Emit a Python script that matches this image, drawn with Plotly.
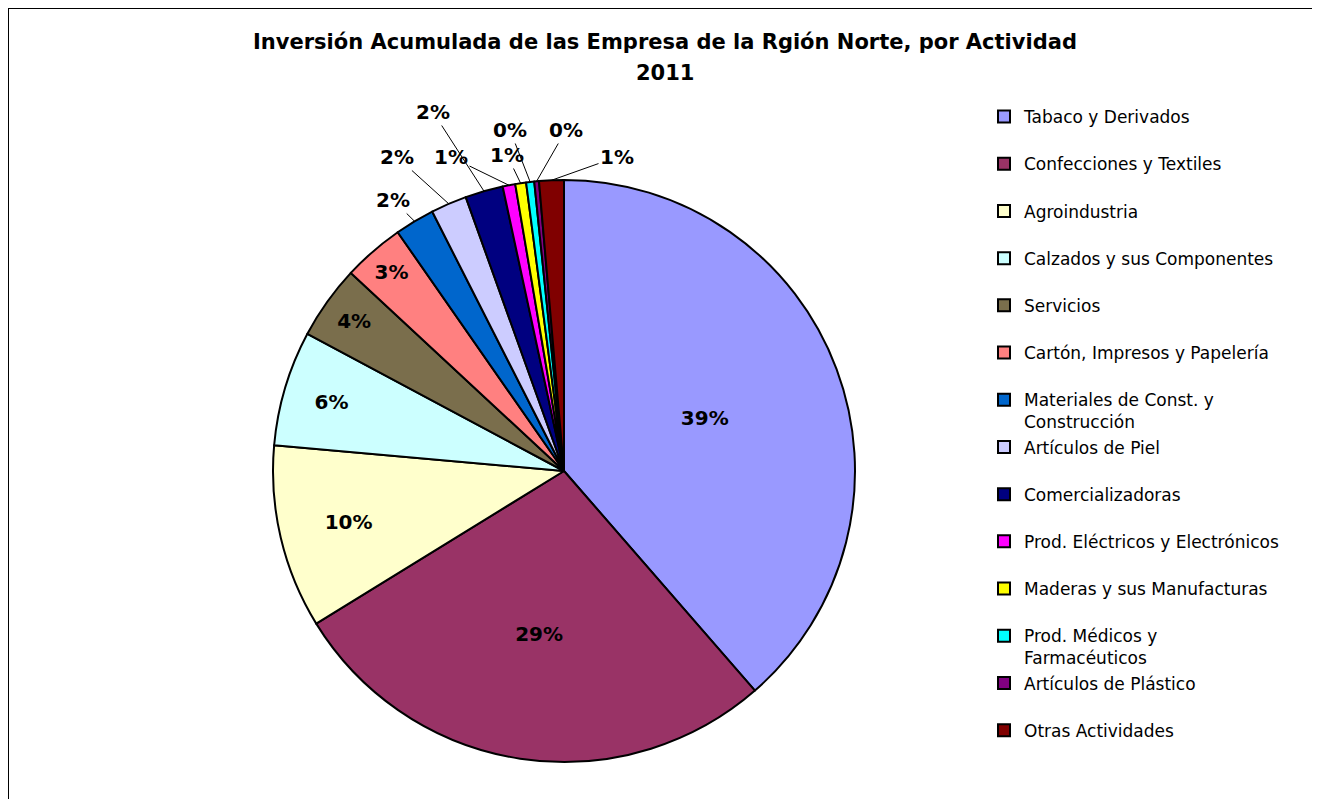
import math
import plotly.graph_objects as go

# Activities, in the order they are drawn clockwise from 12 o'clock
actividades = [
    "Tabaco y Derivados",
    "Confecciones y Textiles",
    "Agroindustria",
    "Calzados y sus Componentes",
    "Servicios",
    "Cartón, Impresos y Papelería",
    "Materiales de Const. y<br>Construcción",
    "Artículos de Piel",
    "Comercializadoras",
    "Prod. Eléctricos y Electrónicos",
    "Maderas y sus Manufacturas",
    "Prod. Médicos y<br>Farmacéuticos",
    "Artículos de Plástico",
    "Otras Actividades",
]
# share of accumulated investment (%)
inversion = [38.6, 27.6, 10.2, 6.4, 4.1, 3.4, 2.2, 2.0, 2.1, 0.7, 0.6, 0.45, 0.26, 1.37]
# data labels as printed on the chart
etiquetas = ["39%", "29%", "10%", "6%", "4%", "3%", "2%", "2%", "2%", "1%", "1%", "0%", "0%", "1%"]

colores = [
    "#9999FF", "#993366", "#FFFFCC", "#CCFFFF", "#7A6E4C", "#FF8080", "#0066CC",
    "#CCCCFF", "#000080", "#FF00FF", "#FFFF00", "#00FFFF", "#800080", "#800000",
]
N_DENTRO = 6   # the first six slices carry their label inside

# every legend row gets two lines so the row pitch matches the original
def leyenda(nombre):
    return nombre if "<br>" in nombre else nombre + "<br>&nbsp;"

W, H = 1312, 791   # page adds an 8px body margin
FUENTE = "DejaVu Sans, Arial"

def px_x(x):
    return (x - 8) / W

def px_y(y):
    return 1 - (y - 8) / H

cx, cy, r = 564, 471, 291

fig = go.Figure(go.Pie(
    labels=[leyenda(n) for n in actividades],
    values=inversion,
    text=etiquetas,
    textinfo="text",
    textposition=["inside"] * N_DENTRO + ["none"] * (len(inversion) - N_DENTRO),
    insidetextorientation="horizontal",
    textfont=dict(family=FUENTE, size=20, color="black", weight="bold"),
    marker=dict(colors=colores, line=dict(color="black", width=2)),
    sort=False,
    direction="clockwise",
    rotation=0,
    domain=dict(x=[px_x(cx - r), px_x(cx + r)], y=[px_y(cy + r), px_y(cy - r)]),
    hoverinfo="label+percent",
))

# small slices: labels placed around the top of the pie with leader lines
pos_etiquetas = [(393, 200), (397, 157), (433, 112), (451, 157),
                 (507, 155), (510, 130), (566, 130), (617, 157)]
total = sum(inversion)
acum = sum(inversion[:N_DENTRO])
notas = []
for i in range(N_DENTRO, len(inversion)):
    ang = 2 * math.pi * (acum + inversion[i] / 2) / total
    acum += inversion[i]
    bx = cx + r * math.sin(ang)
    by = cy - r * math.cos(ang)
    lx, ly = pos_etiquetas[i - N_DENTRO]
    notas.append(dict(
        text=etiquetas[i], x=px_x(bx), y=px_y(by), xref="paper", yref="paper",
        ax=lx - bx, ay=ly - by, showarrow=True, arrowhead=0, arrowwidth=1,
        arrowcolor="black", standoff=0,
        font=dict(family=FUENTE, size=20, color="black", weight="bold"),
    ))

notas.append(dict(
    text="2011", x=px_x(665), y=px_y(73),
    xref="paper", yref="paper", xanchor="center", yanchor="middle",
    showarrow=False, font=dict(size=21, color="black", weight="bold"),
))

fig.update_layout(
    width=W,
    height=H,
    paper_bgcolor="white",
    plot_bgcolor="white",
    margin=dict(l=0, r=0, t=0, b=0),
    font=dict(family=FUENTE, color="black"),
    title=dict(
        text="Inversión Acumulada de las Empresa de la Rgión Norte, por Actividad",
        x=px_x(665), xanchor="center",
        y=px_y(42), yanchor="middle",
        font=dict(size=21, color="black", weight="bold"),
    ),
    annotations=notas,
    legend=dict(
        x=px_x(984), xanchor="left",
        y=px_y(99), yanchor="top",
        font=dict(family=FUENTE, size=17, color="black"),
        valign="top",
        bgcolor="rgba(0,0,0,0)",
        itemclick=False,
    ),
    shapes=[dict(
        type="rect", xref="paper", yref="paper",
        x0=0, x1=1.02, y0=-0.02, y1=1,
        line=dict(color="black", width=2), layer="below",
    )],
)

fig.write_html("out.html")
